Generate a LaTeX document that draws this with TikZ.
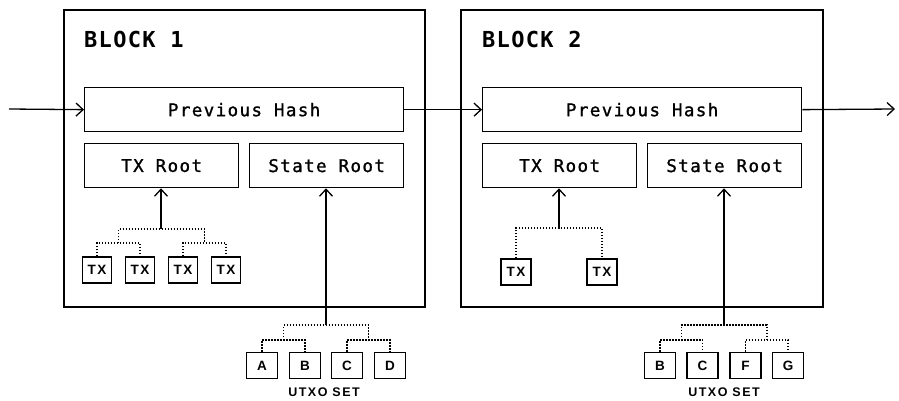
\documentclass[tikz,border=0pt]{standalone}
\usepackage{fontspec}
\newfontfamily\headfont[LetterSpace=6]{DejaVu Sans Mono}
\newfontfamily\fieldfont[LetterSpace=8, FakeBold=1.2]{DejaVu Sans Mono}
\newfontfamily\tagfont[LetterSpace=12]{Liberation Sans}
\usetikzlibrary{arrows.meta,calc}

\begin{document}
\begin{tikzpicture}[x=1pt, y=-1pt,
    blockframe/.style={draw, line width=2.4pt, inner sep=0pt, anchor=north west},
    blocktitle/.style={anchor=base west, inner sep=0pt, font=\headfont\bfseries\fontsize{22}{26}\selectfont},
    field/.style={draw, line width=1.3pt, inner sep=0pt, anchor=north west, minimum height=44pt, font=\fieldfont\fontsize{17.5}{20}\selectfont},
    leaf/.style={draw, line width=1.9pt, inner sep=0pt, minimum height=26pt, font=\tagfont\bfseries\fontsize{13.5}{15}\selectfont},
    settitle/.style={inner sep=0pt, font=\tagfont\bfseries\fontsize{12.5}{14}\selectfont},
    treeline/.style={line width=1.5pt, dash pattern=on 1.5pt off 1.5pt},
    link/.style={line width=1.3pt, -{Straight Barb[length=7pt,width=13pt]}}]

    \useasboundingbox (0,0) rectangle (899,400);

    % Blocchi
    \node[blockframe, minimum width=361pt, minimum height=297pt] (block1) at (63,9) {};
    \node[blockframe, minimum width=362pt, minimum height=297pt] (block2) at (460,9) {};
    \node[blocktitle] (title1) at (84,47) {BLOCK 1};
    \node[blocktitle] (title2) at (482,47) {BLOCK 2};

    % Campi dell'intestazione
    \node[field, minimum width=319pt] (prevhash1) at (84,87) {Previous Hash};
    \node[field, minimum width=154pt] (txroot1) at (84,143) {TX Root};
    \node[field, minimum width=154pt] (stateroot1) at (249,143) {State Root};

    \node[field, minimum width=319pt] (prevhash2) at (482,87) {Previous Hash};
    \node[field, minimum width=154pt] (txroot2) at (482,143) {TX Root};
    \node[field, minimum width=154pt] (stateroot2) at (647,143) {State Root};

    % Catena degli hash
    \coordinate (chainin) at (9,109);
    \coordinate (chainout) at (895,109);
    \draw[link] (chainin) -- (prevhash1.west);
    \draw[link] (prevhash1.east) -- (prevhash2.west);
    \draw[link] (prevhash2.east) -- (chainout);

    % Transazioni del blocco 1
    \node[leaf, minimum width=29pt] (txa1) at (97,270) {TX};
    \node[leaf, minimum width=29pt] (txb1) at (140,270) {TX};
    \node[leaf, minimum width=29pt] (txc1) at (183,270) {TX};
    \node[leaf, minimum width=29pt] (txd1) at (226,270) {TX};
    \coordinate (txleft1) at (118.5,243);
    \coordinate (txright1) at (204.5,243);
    \coordinate (txtop1) at (161,229);
    \draw[treeline] (txa1.north) |- (txleft1) -| (txb1.north);
    \draw[treeline] (txc1.north) |- (txright1) -| (txd1.north);
    \draw[treeline] (txleft1) |- (txtop1) -| (txright1);
    \draw[link] (txtop1) -- (txtop1 |- txroot1.south);

    % Transazioni del blocco 2
    \node[leaf, minimum width=30pt] (txa2) at (516,272) {TX};
    \node[leaf, minimum width=30pt] (txb2) at (602,272) {TX};
    \coordinate (txtop2) at (559,228);
    \draw[treeline] (txa2.north) |- (txtop2) -| (txb2.north);
    \draw[link] (txtop2) -- (txtop2 |- txroot2.south);

    % Insieme UTXO del blocco 1
    \node[leaf, minimum width=31pt] (utxoa1) at (262,365.5) {A};
    \node[leaf, minimum width=31pt] (utxob1) at (305,365.5) {B};
    \node[leaf, minimum width=31pt] (utxoc1) at (347,365.5) {C};
    \node[leaf, minimum width=31pt] (utxod1) at (390,365.5) {D};
    \coordinate (utxoleft1) at (283.5,340);
    \coordinate (utxoright1) at (368.5,340);
    \coordinate (utxotop1) at (326,325);
    \draw[treeline] (utxoa1.north) |- (utxoleft1) -| (utxob1.north);
    \draw[treeline] (utxoc1.north) |- (utxoright1) -| (utxod1.north);
    \draw[treeline] (utxoleft1) |- (utxotop1) -| (utxoright1);
    \draw[link] (utxotop1) -- (utxotop1 |- stateroot1.south);
    \node[settitle] (utxoset1) at (324,392) {UTXO SET};

    % Insieme UTXO del blocco 2
    \node[leaf, minimum width=31pt] (utxob2) at (660,365.5) {B};
    \node[leaf, minimum width=31pt] (utxoc2) at (702.5,365.5) {C};
    \node[leaf, minimum width=31pt] (utxof2) at (745.5,365.5) {F};
    \node[leaf, minimum width=31pt] (utxog2) at (788,365.5) {G};
    \coordinate (utxoleft2) at (681.25,340);
    \coordinate (utxoright2) at (766.75,340);
    \coordinate (utxotop2) at (724,325);
    \draw[treeline] (utxob2.north) |- (utxoleft2) -| (utxoc2.north);
    \draw[treeline] (utxof2.north) |- (utxoright2) -| (utxog2.north);
    \draw[treeline] (utxoleft2) |- (utxotop2) -| (utxoright2);
    \draw[link] (utxotop2) -- (utxotop2 |- stateroot2.south);
    \node[settitle] (utxoset2) at (724,392) {UTXO SET};

\end{tikzpicture}
\end{document}
